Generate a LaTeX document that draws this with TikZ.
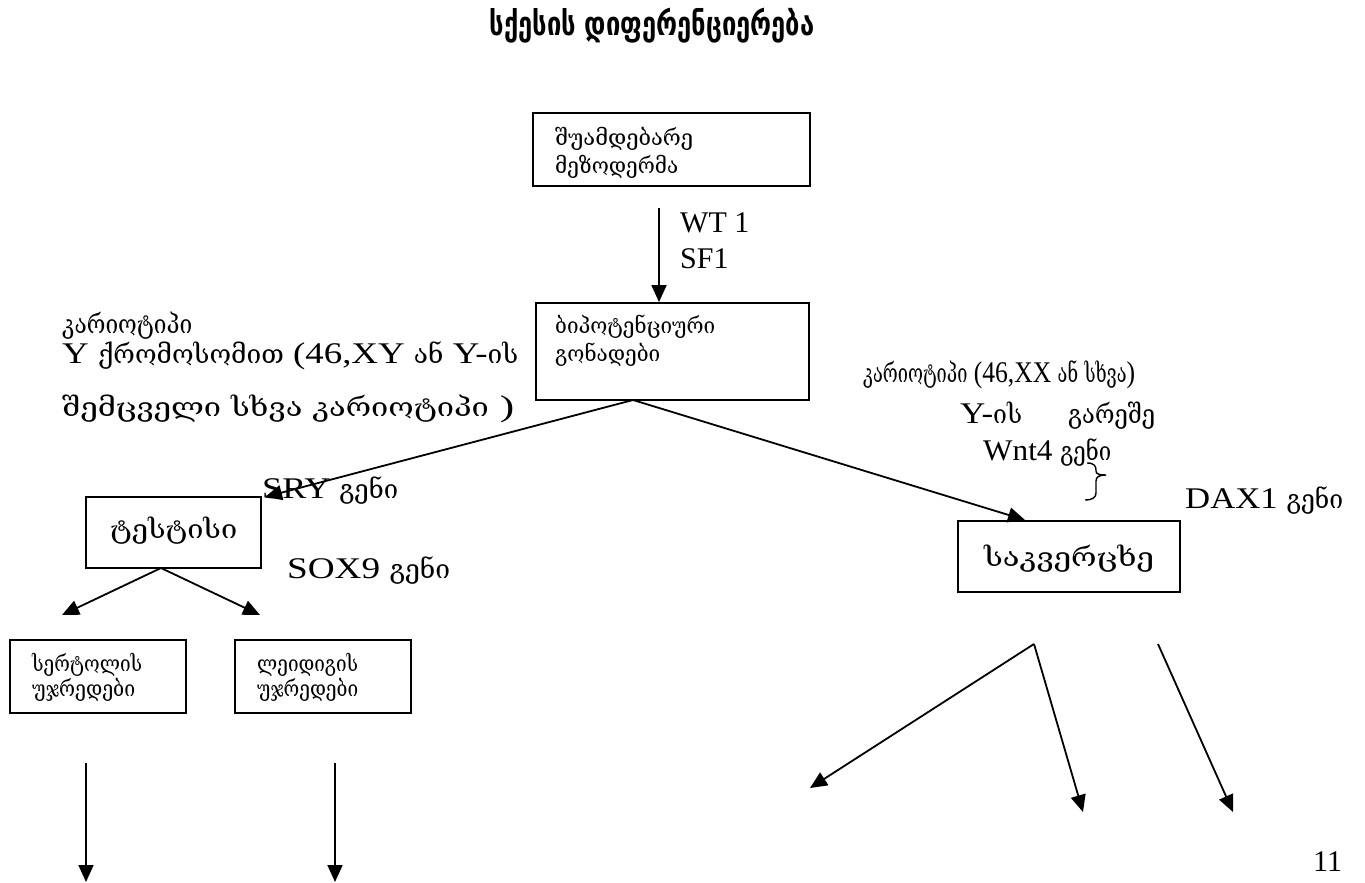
\documentclass[tikz,border=0pt]{standalone}
\usepackage{fontspec}
\usepackage{graphicx}
\setmainfont{Liberation Serif}
\newfontfamily\geofont{DejaVu Serif}[FakeStretch=0.82]
\newfontfamily\headfont{DejaVu Sans}
\usetikzlibrary{arrows.meta}
% text sizes
\newcommand\bodysize{\fontsize{30}{34}\selectfont}
\newcommand\ka[1]{{\geofont\fontsize{26}{30}\selectfont #1}}
\newcommand\kasm[1]{{\geofont\fontsize{22}{26}\selectfont #1}}
% squeeze a line to a given width, keeping its height
\newcommand\fitw[2]{\resizebox{#1pt}{\height}{#2}}

\begin{document}
\begin{tikzpicture}[x=1pt,y=-1pt,
  box/.style={draw,line width=1.8pt,inner sep=0pt},
  arr/.style={line width=1.8pt,-{Triangle[length=17pt,width=15pt]}},
  txt/.style={anchor=base west,inner sep=0pt,font=\bodysize}]
\fill[white] (0,0) rectangle (1365,883);
\useasboundingbox (0,0) rectangle (1365,883);

% heading
\node[txt,anchor=base] (ttl) at (652,35)
  {\fitw{325}{\headfont\bfseries\fontsize{33}{36}\selectfont სქესის დიფერენციერება}};

% boxes
\node[box,minimum width=277pt,minimum height=73pt] (meso) at (671.5,149.5) {};
\node[box,minimum width=273pt,minimum height=97pt] (gonad) at (672.5,351.5) {};
\node[box,minimum width=175pt,minimum height=71pt] (testis) at (173.5,532.5) {};
\node[box,minimum width=222pt,minimum height=71pt] (ovary) at (1069,556.5) {};
\node[box,minimum width=176pt,minimum height=73pt] (sertoli) at (98,676.5) {};
\node[box,minimum width=176pt,minimum height=73pt] (leydig) at (323,676.5) {};

% box labels
\node[txt] (mesoA) at (555,145) {\fitw{138}{\kasm{შუამდებარე}}};
\node[txt] (mesoB) at (555,173) {\fitw{123}{\kasm{მეზოდერმა}}};
\node[txt] (gonadA) at (555,333) {\fitw{160}{\kasm{ბიპოტენციური}}};
\node[txt] (gonadB) at (555,361) {\fitw{105}{\kasm{გონადები}}};
\node[txt] (testisT) at (110,538) {\fitw{127}{\ka{ტესტისი}}};
\node[txt,anchor=base] (ovaryT) at (1069,566) {\fitw{170}{\ka{საკვერცხე}}};
\node[txt] (sertA) at (32,671) {\fitw{110}{\kasm{სერტოლის}}};
\node[txt] (sertB) at (32,696) {\fitw{103}{\kasm{უჯრედები}}};
\node[txt] (leyA) at (257,671) {\fitw{101}{\kasm{ლეიდიგის}}};
\node[txt] (leyB) at (257,696) {\fitw{101}{\kasm{უჯრედები}}};

% factor labels
\node[txt] (wt) at (680,232) {WT 1};
\node[txt] (sf) at (680,268) {SF1};
\node[txt] (kL1) at (62,333) {\fitw{130}{\ka{კარიოტიპი}}};
\node[txt] (kL2) at (62,363) {\fitw{456}{Y \ka{ქრომოსომით} (46,XY \ka{ან} Y-\ka{ის}}};
\node[txt] (kL3) at (62,416) {\fitw{452}{\ka{შემცველი სხვა კარიოტიპი} )}};
\node[txt] (kR1) at (863,382) {\fitw{272}{\ka{კარიოტიპი} (46,XX \ka{ან} \ka{სხვა})}};
\node[txt] (kR2) at (960,423) {\fitw{62}{Y-\ka{ის}}};
\node[txt] (kR3) at (1068,423) {\fitw{87}{\ka{გარეშე}}};
\node[txt] (wnt) at (983,460) {\fitw{128}{Wnt4 \ka{გენი}}};
\node[txt] (dax) at (1185,508) {\fitw{158}{DAX1 \ka{გენი}}};
\node[txt] (sry) at (262,498) {\fitw{136}{SRY \ka{გენი}}};
\node[txt] (sox) at (287,578) {\fitw{163}{SOX9 \ka{გენი}}};
\node[txt] (page) at (1313,871) {11};

% connector end points
\coordinate (mesoOut) at (659,208);
\coordinate (gonadOut) at (633,400);
\coordinate (sryTip) at (265,497);
\coordinate (ovTip) at (1025,520);
\coordinate (testisOut) at (161,568);
\coordinate (tipL) at (62,615);
\coordinate (tipR) at (260,615);
\coordinate (sertOut) at (86,763);
\coordinate (sertEnd) at (86,882);
\coordinate (leyOut) at (335,763);
\coordinate (leyEnd) at (335,882);
\coordinate (ovA) at (1034,644);
\coordinate (ovAL) at (810,788);
\coordinate (ovAR) at (1083,812);
\coordinate (ovB) at (1158,644);
\coordinate (ovBR) at (1233,812);

% connectors
\draw[arr] (mesoOut) -- (mesoOut |- gonad.north);
\draw[arr] (gonadOut) -- (sryTip);
\draw[arr] (gonadOut) -- (ovTip);
\draw[arr] (testisOut) -- (tipL);
\draw[arr] (testisOut) -- (tipR);
\draw[arr] (sertOut) -- (sertEnd);
\draw[arr] (leyOut) -- (leyEnd);
\draw[arr] (ovA) -- (ovAL);
\draw[arr] (ovA) -- (ovAR);
\draw[arr] (ovB) -- (ovBR);

% brace between the two genes
\draw[line width=1.4pt] (1087,463) .. controls (1094,463) and (1096,466) .. (1096,470)
  -- (1096,471) .. controls (1096,474) and (1099,475) .. (1106,475)
  .. controls (1099,475) and (1096,477) .. (1096,481)
  -- (1096,493) .. controls (1096,497) and (1093,500) .. (1085,500);
\end{tikzpicture}
\end{document}
